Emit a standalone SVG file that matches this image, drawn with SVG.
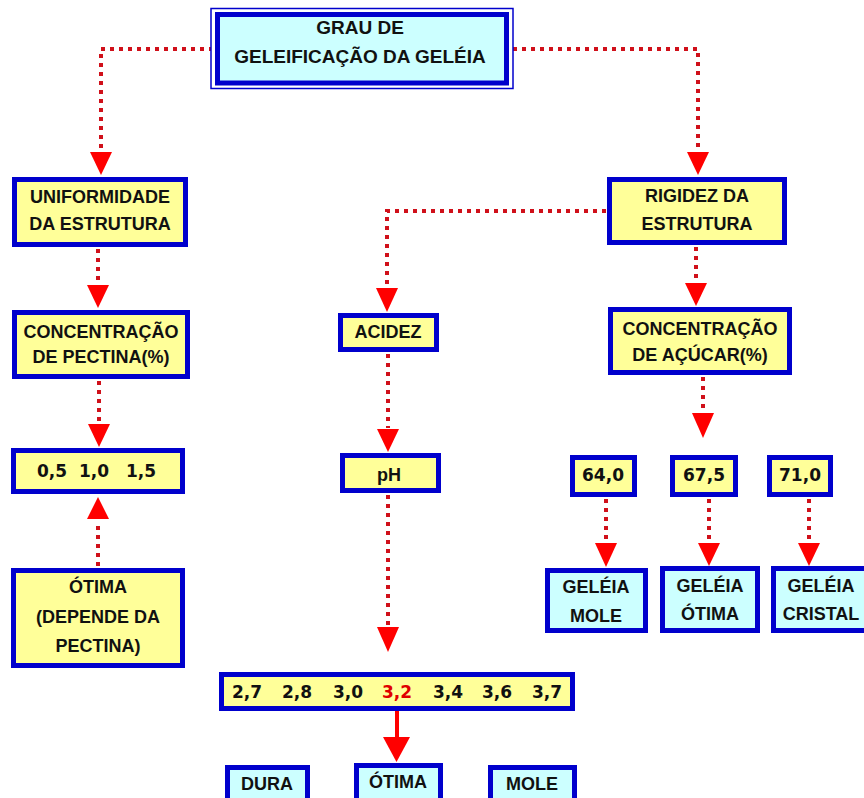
<svg xmlns="http://www.w3.org/2000/svg" width="864" height="798" viewBox="0 0 864 798">
<style>
.box{stroke:#0000CC;stroke-width:5}
.y{fill:#FFFF99}
.c{fill:#CCFFFF}
.t{font-family:"Liberation Sans",Arial,sans-serif;font-weight:bold;font-size:18px;fill:#111;text-anchor:middle}
.n{font-family:"DejaVu Sans",Verdana,sans-serif;font-weight:bold;font-size:17px;fill:#111;text-anchor:middle}
.dot{fill:none;stroke:#D0101A;stroke-width:4;stroke-dasharray:4 5}
.ah{fill:#FF0000}
</style>
<rect width="864" height="798" fill="#FFFFFF"/>

<g id="connectors">
<polyline class="dot" points="213,49 101,49 101,150"/>
<polygon class="ah" points="90,152 112,152 101,175"/>
<polyline class="dot" points="513,49 698,49 698,150"/>
<polygon class="ah" points="687,152 709,152 698,175"/>
<line class="dot" x1="98" y1="249" x2="98" y2="284"/>
<polygon class="ah" points="87,285 109,285 98,308"/>
<line class="dot" x1="99" y1="381" x2="99" y2="423"/>
<polygon class="ah" points="88,424 110,424 99,447"/>
<line class="dot" x1="98" y1="566" x2="98" y2="521"/>
<polygon class="ah" points="87,519 109,519 98,497"/>
<polyline class="dot" points="606,211 387,211 387,287"/>
<polygon class="ah" points="376,288 398,288 387,312"/>
<line class="dot" x1="696" y1="247" x2="696" y2="282"/>
<polygon class="ah" points="685,283 707,283 696,306"/>
<line class="dot" x1="703" y1="377" x2="703" y2="412"/>
<polygon class="ah" points="692,413 714,413 703,438"/>
<line class="dot" x1="388" y1="354" x2="388" y2="428"/>
<polygon class="ah" points="377,429 399,429 388,452"/>
<line class="dot" x1="388" y1="495" x2="388" y2="626"/>
<polygon class="ah" points="377,627 399,627 388,652"/>
<line x1="397" y1="711" x2="397" y2="738" stroke="#FF0000" stroke-width="4"/>
<polygon class="ah" points="383,737 410,737 396.5,762"/>
<line class="dot" x1="606" y1="499" x2="606" y2="542"/>
<polygon class="ah" points="595,543 617,543 606,567"/>
<line class="dot" x1="709" y1="499" x2="709" y2="542"/>
<polygon class="ah" points="698,543 720,543 709,566"/>
<line class="dot" x1="809" y1="499" x2="809" y2="542"/>
<polygon class="ah" points="798,543 820,543 809,566"/>
</g>

<g id="grau">
<rect x="211" y="8.5" width="302" height="80" fill="#FFFFFF" stroke="#0000CC" stroke-width="1.5"/>
<rect class="box c" x="217.5" y="14.5" width="289" height="68.5"/>
<text class="t" x="360" y="34" style="font-size:19px">GRAU DE</text>
<text class="t" x="360" y="63" style="font-size:19px">GELEIFICAÇÃO DA GELÉIA</text>
</g>

<g id="uniformidade">
<rect class="box y" x="14.5" y="179.5" width="171" height="65"/>
<text class="t" x="100" y="203">UNIFORMIDADE</text>
<text class="t" x="100" y="230">DA ESTRUTURA</text>
</g>

<g id="pectina">
<rect class="box y" x="14.5" y="312.5" width="173" height="64"/>
<text class="t" x="101" y="338">CONCENTRAÇÃO</text>
<text class="t" x="101" y="363">DE PECTINA(%)</text>
</g>

<g id="pectina-valores">
<rect class="box y" x="13.5" y="450.5" width="169" height="41"/>
<text class="n" x="52" y="477">0,5</text>
<text class="n" x="94" y="477">1,0</text>
<text class="n" x="141" y="477">1,5</text>
</g>

<g id="otima-pectina">
<rect class="box y" x="13.5" y="570.5" width="169" height="95"/>
<text class="t" x="98" y="593">ÓTIMA</text>
<text class="t" x="98" y="623">(DEPENDE DA</text>
<text class="t" x="98" y="652">PECTINA)</text>
</g>

<g id="rigidez">
<rect class="box y" x="609.5" y="179.5" width="175" height="63"/>
<text class="t" x="697" y="202">RIGIDEZ DA</text>
<text class="t" x="697" y="230">ESTRUTURA</text>
</g>

<g id="acucar">
<rect class="box y" x="610.5" y="309.5" width="179" height="63"/>
<text class="t" x="700" y="335">CONCENTRAÇÃO</text>
<text class="t" x="700" y="361">DE AÇÚCAR(%)</text>
</g>

<g id="acidez">
<rect class="box y" x="340.5" y="315.5" width="96" height="34"/>
<text class="t" x="388" y="338">ACIDEZ</text>
</g>

<g id="ph">
<rect class="box y" x="342.5" y="455.5" width="96" height="35"/>
<text class="t" x="389" y="481">pH</text>
</g>

<g id="ph-valores">
<rect class="box y" x="221.5" y="674.5" width="351" height="34"/>
<text class="n" x="247" y="698">2,7</text>
<text class="n" x="297" y="698">2,8</text>
<text class="n" x="348" y="698">3,0</text>
<text class="n" x="397" y="698" style="fill:#E00000">3,2</text>
<text class="n" x="448" y="698">3,4</text>
<text class="n" x="497" y="698">3,6</text>
<text class="n" x="547" y="698">3,7</text>
</g>

<g id="dura">
<rect class="box c" x="227.5" y="767.5" width="80" height="40"/>
<text class="t" x="267" y="790">DURA</text>
</g>
<g id="otima-ph">
<rect class="box c" x="356.5" y="765.5" width="84" height="42"/>
<text class="t" x="398" y="788">ÓTIMA</text>
</g>
<g id="mole-ph">
<rect class="box c" x="490.5" y="767.5" width="84" height="40"/>
<text class="t" x="532" y="790">MOLE</text>
</g>

<g id="v640">
<rect class="box y" x="572.5" y="457.5" width="62" height="37"/>
<text class="n" x="603" y="481">64,0</text>
</g>
<g id="v675">
<rect class="box y" x="672.5" y="457.5" width="63" height="37"/>
<text class="n" x="704" y="481">67,5</text>
</g>
<g id="v710">
<rect class="box y" x="769.5" y="457.5" width="61" height="37"/>
<text class="n" x="800" y="481">71,0</text>
</g>

<g id="geleia-mole">
<rect class="box c" x="547.5" y="570.5" width="98" height="60"/>
<text class="t" x="596" y="593">GELÉIA</text>
<text class="t" x="596" y="622">MOLE</text>
</g>
<g id="geleia-otima">
<rect class="box c" x="662.5" y="568.5" width="95" height="62"/>
<text class="t" x="710" y="592">GELÉIA</text>
<text class="t" x="710" y="620">ÓTIMA</text>
</g>
<g id="geleia-cristal">
<rect class="box c" x="773.5" y="568.5" width="95" height="62"/>
<text class="t" x="821" y="592">GELÉIA</text>
<text class="t" x="821" y="620">CRISTAL</text>
</g>
</svg>
